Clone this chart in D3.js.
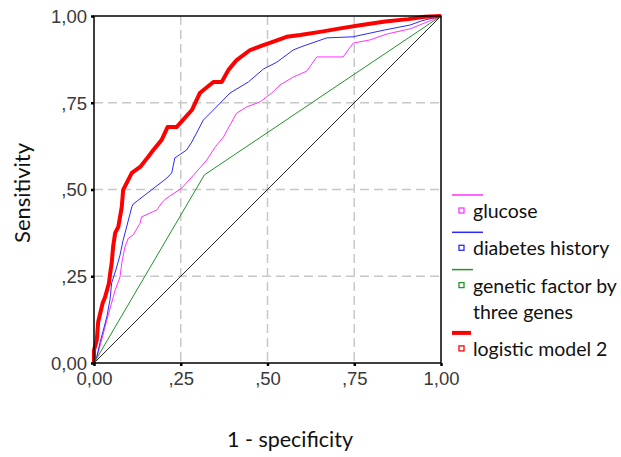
<!DOCTYPE html>
<html>
<head>
<meta charset="utf-8">
<script src="https://cdn.jsdelivr.net/npm/d3@7"></script>
<style>
  body { margin: 0; background: #fff; }
  svg { display: block; }
</style>
</head>
<body>
<svg id="chart" width="621" height="457"></svg>
<script>
// ROC curves, values as [1 - specificity, sensitivity]
const glucose = [[0,0],[0.008,0.017],[0.022,0.066],[0.037,0.124],[0.061,0.21],[0.075,0.248],
  [0.08,0.288],[0.089,0.334],[0.099,0.36],[0.113,0.369],[0.133,0.403],[0.137,0.421],[0.181,0.441],
  [0.195,0.461],[0.205,0.472],[0.253,0.504],[0.282,0.536],[0.305,0.562],[0.325,0.585],[0.349,0.622],
  [0.373,0.651],[0.392,0.686],[0.411,0.72],[0.44,0.738],[0.478,0.752],[0.512,0.778],[0.536,0.801],
  [0.574,0.824],[0.613,0.841],[0.642,0.882],[0.718,0.882],[0.747,0.922],[0.795,0.931],[0.844,0.948],
  [0.911,0.963],[0.973,0.988],[1,1]];
const diabetesHistory = [[0,0],[0.008,0.017],[0.017,0.058],[0.027,0.095],[0.037,0.133],[0.046,0.182],
  [0.051,0.231],[0.063,0.268],[0.075,0.311],[0.084,0.354],[0.094,0.392],[0.109,0.45],[0.113,0.458],
  [0.166,0.499],[0.21,0.533],[0.224,0.548],[0.233,0.591],[0.267,0.614],[0.282,0.637],[0.315,0.7],
  [0.344,0.729],[0.392,0.778],[0.445,0.81],[0.488,0.847],[0.527,0.867],[0.574,0.902],[0.599,0.912],
  [0.671,0.937],[0.746,0.94],[0.839,0.96],[0.911,0.974],[0.944,0.986],[1,1]];
const geneticFactor = [[0,0],[0.318,0.542],[1,1]];
const logisticModel2 = [[0,0],[0,0.037],[0.008,0.066],[0.012,0.118],[0.025,0.173],[0.032,0.19],
  [0.043,0.23],[0.046,0.254],[0.051,0.288],[0.055,0.334],[0.061,0.375],[0.07,0.392],[0.08,0.45],
  [0.084,0.499],[0.109,0.548],[0.133,0.565],[0.156,0.594],[0.171,0.614],[0.195,0.643],[0.212,0.68],
  [0.238,0.68],[0.282,0.729],[0.305,0.778],[0.344,0.81],[0.368,0.81],[0.387,0.844],[0.411,0.873],
  [0.45,0.902],[0.488,0.916],[0.517,0.926],[0.555,0.94],[0.594,0.945],[0.656,0.955],[0.714,0.965],
  [0.771,0.974],[0.839,0.984],[0.906,0.991],[0.954,0.998],[1,1]];
const reference = [[0,0],[1,1]];

const ticks = [0, 0.25, 0.5, 0.75, 1];
const tickLabels = ["0,00", ",25", ",50", ",75", "1,00"];

const series = [
  { name: ["glucose"], data: glucose, color: "#ff33ff", width: 1, key: 31 },
  { name: ["diabetes history"], data: diabetesHistory, color: "#2a2aff", width: 1, key: 31 },
  { name: ["genetic factor by", "three genes"], data: geneticFactor, color: "#22922a", width: 1, key: 21 },
  { name: ["logistic model 2"], data: logisticModel2, color: "#ff0000", width: 4, key: 19 }
];

const svg = d3.select("#chart");
const x0 = 94, x1 = 441, y0 = 363, y1 = 16;

const x = d3.scaleLinear().domain([0, 1]).range([x0, x1]);
const y = d3.scaleLinear().domain([0, 1]).range([y0, y1]);

// dashed grid
const grid = svg.append("g")
  .attr("stroke", "#c8c8c8")
  .attr("stroke-width", 1.5)
  .attr("stroke-dasharray", "9,5");
grid.selectAll(".gx").data(ticks.slice(1, -1)).enter().append("line")
  .attr("x1", d => x(d)).attr("x2", d => x(d))
  .attr("y1", y1).attr("y2", y0);
grid.selectAll(".gy").data(ticks.slice(1, -1)).enter().append("line")
  .attr("y1", d => y(d)).attr("y2", d => y(d))
  .attr("x1", x0).attr("x2", x1);

const line = d3.line()
  .x(d => x(d[0]))
  .y(d => y(d[1]));

svg.append("path")
  .datum(reference)
  .attr("d", line)
  .attr("fill", "none")
  .attr("stroke", "#222")
  .attr("stroke-width", 1);

svg.append("g").selectAll("path")
  .data(series)
  .enter().append("path")
    .attr("d", d => line(d.data))
    .attr("fill", "none")
    .attr("stroke", d => d.color)
    .attr("stroke-width", d => d.width)
    .attr("stroke-linejoin", "round");

// frame
svg.append("rect")
  .attr("x", x0).attr("y", y1)
  .attr("width", x1 - x0).attr("height", y0 - y1)
  .attr("fill", "none")
  .attr("stroke", "#000")
  .attr("stroke-width", 1.5);

const xAxis = svg.append("g")
  .attr("transform", `translate(0,${y0})`)
  .call(d3.axisBottom(x).tickValues(ticks).tickFormat((d, i) => tickLabels[i]).tickSize(3).tickPadding(6));
const yAxis = svg.append("g")
  .attr("transform", `translate(${x0},0)`)
  .call(d3.axisLeft(y).tickValues(ticks).tickFormat((d, i) => tickLabels[i]).tickSize(3).tickPadding(4));

[xAxis, yAxis].forEach(a => {
  a.select(".domain").remove();
  a.selectAll(".tick line").attr("stroke", "#000").attr("stroke-width", 2.5);
  a.selectAll(".tick text")
    .attr("font-family", "Liberation Sans, Arial, sans-serif")
    .attr("font-size", 18.5)
    .attr("fill", "#3a3a3a");
});
yAxis.selectAll(".tick text").attr("dy", "0.35em");

// axis titles
svg.append("text")
  .attr("x", 290).attr("y", 447)
  .attr("text-anchor", "middle")
  .attr("font-family", "Lato, sans-serif")
  .attr("font-size", 21.5)
  .attr("fill", "#111")
  .text("1 - specificity");

svg.append("text")
  .attr("transform", "translate(30,193) rotate(-90)")
  .attr("text-anchor", "middle")
  .attr("font-family", "Lato, sans-serif")
  .attr("font-size", 22)
  .attr("fill", "#111")
  .text("Sensitivity");

// legend
const legend = svg.append("g")
  .attr("font-family", "Lato, sans-serif")
  .attr("font-size", 19.5)
  .attr("fill", "#111");
let ly = 195;
series.forEach(s => {
  legend.append("line")
    .attr("x1", 452).attr("x2", 452 + s.key)
    .attr("y1", ly).attr("y2", ly)
    .attr("stroke", s.color)
    .attr("stroke-width", s.width === 1 ? 1.5 : 4);
  legend.append("rect")
    .attr("x", 459).attr("y", ly + 13)
    .attr("width", 5).attr("height", 5)
    .attr("fill", "none")
    .attr("stroke", s.color)
    .attr("stroke-width", 1.3);
  s.name.forEach((t, i) => {
    legend.append("text")
      .attr("x", 473).attr("y", ly + 23 + i * 26)
      .text(t);
  });
  ly += 37.3 + (s.name.length - 1) * 26;
});
</script>
</body>
</html>
